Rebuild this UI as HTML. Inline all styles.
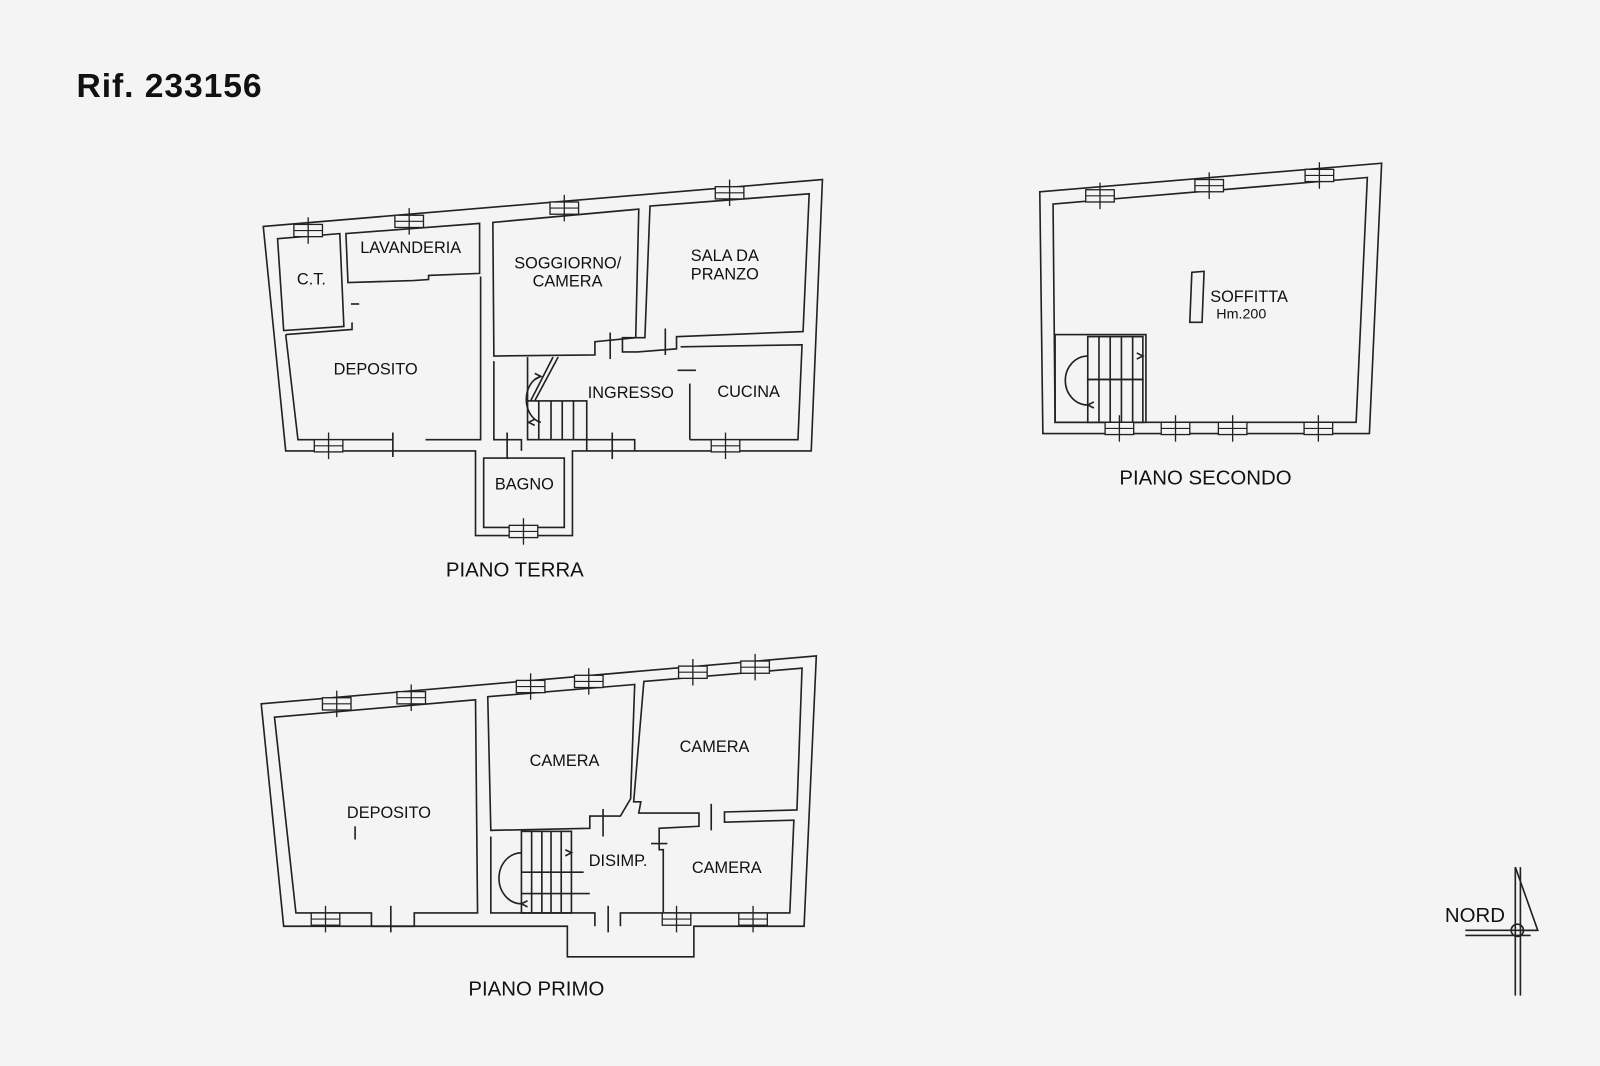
<!DOCTYPE html>
<html><head><meta charset="utf-8"><style>
html,body{margin:0;padding:0;background:#f4f4f4;}
svg{display:block;}
text{font-family:"Liberation Sans",Arial,sans-serif;fill:#111;}
.l{font-size:16px;}
.t{font-size:20px;}
</style></head><body>
<svg width="1600" height="1066" viewBox="0 0 1568 1045" preserveAspectRatio="none" xmlns="http://www.w3.org/2000/svg">
<defs>
<g id="w"><rect x="-14" y="-6" width="28" height="12" fill="#f4f4f4" stroke="#222" stroke-width="1.3"/><line x1="-14" y1="0" x2="14" y2="0" stroke="#222" stroke-width="1.1"/><line x1="0" y1="-13" x2="0" y2="13" stroke="#222" stroke-width="1.3"/></g>
</defs>
<rect width="1568" height="1045" fill="#f4f4f4"/>
<text x="75" y="95" style="font-size:33px;font-weight:bold;letter-spacing:0.9px">Rif. 233156</text>

<g fill="none" stroke="#222" stroke-width="1.6">
<polygon points="258,222 806,176 795,442 561,442 561,525 466,525 466,442 280,442"/>
<polygon points="272,234 333,229 337,320 278,324"/>
<polygon points="339,229 470,219 470,268 420,270 420,274 405,275 341,277"/>
<polyline points="280,328 345,323 345,316"/>
<polyline points="471,271 471,431 417,431"/>
<polyline points="385,431 292,431 280,328"/>
<line x1="385" y1="424" x2="385" y2="448"/>
<line x1="344" y1="298" x2="352" y2="298"/>
<polygon points="483,218 626,205 623,331 583,335 583,348 484,349"/>
<polygon points="637,202 793,190 787,325 663,330 663,342 625,345 610,345 610,331 632,331"/>
<polyline points="676,431 676,376"/>
<polyline points="667,340 786,338 782,431 676,431"/>
<line x1="664" y1="363" x2="682" y2="363"/>
<polyline points="484,354 484,431 511,431 511,442"/>
<polyline points="575,442 575,431 622,431 622,442"/>
<line x1="598" y1="326" x2="598" y2="352"/>
<line x1="652" y1="322" x2="652" y2="348"/>
<line x1="600" y1="424" x2="600" y2="450"/>
<line x1="497" y1="424" x2="497" y2="450"/>
<rect x="517" y="393" width="58" height="38"/>
<line x1="528" y1="393" x2="528" y2="431"/><line x1="540" y1="393" x2="540" y2="431"/><line x1="551" y1="393" x2="551" y2="431"/><line x1="562" y1="393" x2="562" y2="431"/>
<line x1="517" y1="350" x2="517" y2="393"/>
<line x1="542" y1="350" x2="520" y2="393"/><line x1="547" y1="350" x2="524" y2="393"/>
<path d="M530,369 A18,23 0 0 0 530,414"/>
<path d="M524,366 L530,369 L524,372 M524,411 L518,414 L524,417"/>
<polygon points="474,449 553,449 553,517 474,517"/>

<polygon points="1019,188 1354,160 1342,425 1022,425"/>
<polygon points="1032,200 1340,174 1329,414 1034,414"/>
<rect x="1034" y="328" width="89" height="86"/>
<rect x="1066" y="330" width="54" height="42"/>
<rect x="1066" y="372" width="54" height="42"/>
<line x1="1077" y1="330" x2="1077" y2="414"/><line x1="1088" y1="330" x2="1088" y2="414"/><line x1="1099" y1="330" x2="1099" y2="414"/><line x1="1110" y1="330" x2="1110" y2="414"/>
<path d="M1066,349 A22,24 0 0 0 1066,397"/>
<path d="M1114,346 L1120,349 L1114,352 M1072,394 L1066,397 L1072,400"/>
<polygon points="1168,267 1180,266 1178,316 1166,316"/>

<polygon points="256,690 800,643 788,908 680,908 680,938 556,938 556,908 278,908"/>
<polygon points="269,703 466,686 468,895 406,895 406,908 364,908 364,895 290,895"/>
<line x1="383" y1="888" x2="383" y2="914"/>
<line x1="348" y1="810" x2="348" y2="823"/>
<polygon points="478,683 622,671 618,783 608,800 578,800 578,812 481,814"/>
<polygon points="631,668 786,655 781,794 710,796 710,806 778,804 774,895 650,895 650,833 646,833 646,812 685,810 685,797 626,797 628,786 621,786"/>
<polyline points="481,820 481,895 583,895 583,908"/>
<polyline points="608,908 608,895 650,895"/>
<line x1="596" y1="888" x2="596" y2="914"/>
<line x1="591" y1="793" x2="591" y2="820"/>
<line x1="697" y1="788" x2="697" y2="814"/>
<line x1="638" y1="827" x2="654" y2="827"/>
<rect x="511" y="815" width="49" height="80"/>
<line x1="521" y1="815" x2="521" y2="895"/><line x1="531" y1="815" x2="531" y2="895"/><line x1="540" y1="815" x2="540" y2="895"/><line x1="550" y1="815" x2="550" y2="895"/>
<line x1="511" y1="855" x2="572" y2="855"/><line x1="511" y1="876" x2="578" y2="876"/>
<path d="M511,836 A22,25 0 0 0 511,886"/>
<path d="M554,833 L560,836 L554,839 M517,883 L511,886 L517,889"/>

<line x1="1485" y1="850" x2="1485" y2="976"/><line x1="1490" y1="850" x2="1490" y2="976"/>
<polyline points="1485,850 1507,912 1490,912"/>
<line x1="1436" y1="912" x2="1506" y2="912"/><line x1="1436" y1="917" x2="1500" y2="917"/>
<circle cx="1487" cy="912" r="6"/>
</g>

<use href="#w" x="302" y="226"/><use href="#w" x="401" y="217"/><use href="#w" x="553" y="204"/><use href="#w" x="715" y="189"/>
<use href="#w" x="322" y="437"/><use href="#w" x="711" y="437"/><use href="#w" x="513" y="521"/>
<use href="#w" x="1078" y="192"/><use href="#w" x="1185" y="182"/><use href="#w" x="1293" y="172"/>
<use href="#w" x="1097" y="420"/><use href="#w" x="1152" y="420"/><use href="#w" x="1208" y="420"/><use href="#w" x="1292" y="420"/>
<use href="#w" x="330" y="690"/><use href="#w" x="403" y="684"/><use href="#w" x="520" y="673"/><use href="#w" x="577" y="668"/><use href="#w" x="679" y="659"/><use href="#w" x="740" y="654"/>
<use href="#w" x="319" y="901"/><use href="#w" x="663" y="901"/><use href="#w" x="738" y="901"/>

<text class="l" x="353" y="248">LAVANDERIA</text>
<text class="l" x="291" y="279">C.T.</text>
<text class="l" x="327" y="367">DEPOSITO</text>
<text class="l" x="504" y="263">SOGGIORNO/</text>
<text class="l" x="522" y="281">CAMERA</text>
<text class="l" x="677" y="256">SALA DA</text>
<text class="l" x="677" y="274">PRANZO</text>
<text class="l" x="576" y="390">INGRESSO</text>
<text class="l" x="703" y="389">CUCINA</text>
<text class="l" x="485" y="480">BAGNO</text>
<text class="t" x="437" y="565">PIANO TERRA</text>
<text class="l" x="1186" y="296">SOFFITTA</text>
<text x="1192" y="312" style="font-size:14px">Hm.200</text>
<text class="t" x="1097" y="475">PIANO SECONDO</text>
<text class="l" x="340" y="802">DEPOSITO</text>
<text class="l" x="519" y="751">CAMERA</text>
<text class="l" x="666" y="737">CAMERA</text>
<text class="l" x="577" y="849">DISIMP.</text>
<text class="l" x="678" y="856">CAMERA</text>
<text class="t" x="459" y="976">PIANO PRIMO</text>
<text class="t" x="1416" y="904">NORD</text>
</svg>
</body></html>
